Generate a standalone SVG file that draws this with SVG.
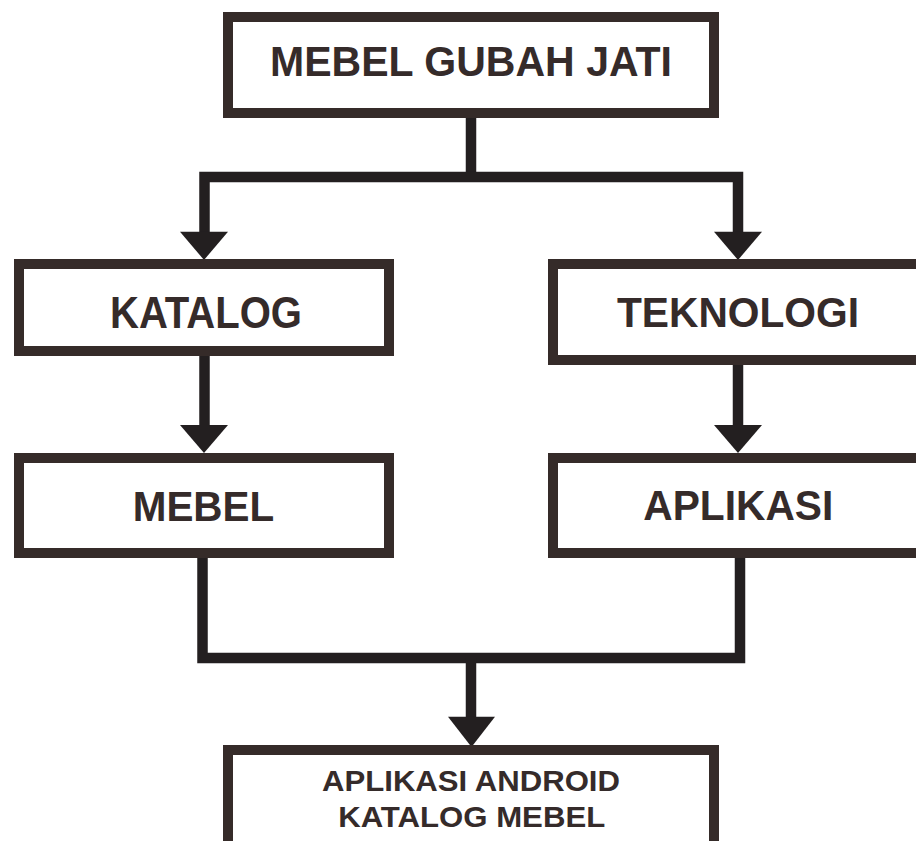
<svg xmlns="http://www.w3.org/2000/svg" width="916" height="841" viewBox="0 0 916 841">
  <style>
    .box { fill: #ffffff; stroke: #352b29; stroke-width: 10; }
    .lbl { font-family: "Liberation Sans", Arial, sans-serif; font-weight: bold; fill: #352b2a; text-anchor: middle; }
    .conn { fill: none; stroke: #231f20; stroke-width: 10.5; stroke-linejoin: miter; stroke-linecap: butt; }
    .head { fill: #231f20; }
  </style>
  <rect x="0" y="0" width="916" height="841" fill="#ffffff"/>

  <g id="connectors">
    <path class="conn" d="M471,118 V177"/>
    <path class="conn" d="M204.5,233 V177 H738 V233"/>
    <polygon class="head" points="180,231.7 228,231.7 204,260"/>
    <polygon class="head" points="714,231.7 762,231.7 738,260"/>
    <path class="conn" d="M204.5,355 V426"/>
    <polygon class="head" points="180,425 228,425 204,453"/>
    <path class="conn" d="M738,364 V426"/>
    <polygon class="head" points="714,425 762,425 738,453"/>
    <path class="conn" d="M202.5,552 V658 H740 V552"/>
    <path class="conn" d="M471,658 V718"/>
    <polygon class="head" points="448,716.7 495,716.7 471.5,747"/>
  </g>

  <g id="node-mebel-gubah-jati">
    <rect class="box" x="228" y="17" width="486" height="96"/>
    <text class="lbl" x="471" y="76" font-size="43" textLength="402" lengthAdjust="spacingAndGlyphs">MEBEL GUBAH JATI</text>
  </g>

  <g id="node-katalog">
    <rect class="box" x="19" y="264" width="370" height="87"/>
    <text class="lbl" x="206" y="328" font-size="44" textLength="192" lengthAdjust="spacingAndGlyphs">KATALOG</text>
  </g>

  <g id="node-teknologi">
    <rect class="box" x="553" y="264" width="400" height="96"/>
    <text class="lbl" x="738" y="327" font-size="42" textLength="242" lengthAdjust="spacingAndGlyphs">TEKNOLOGI</text>
  </g>

  <g id="node-mebel">
    <rect class="box" x="19" y="458" width="370" height="95"/>
    <text class="lbl" x="203.5" y="521" font-size="42" textLength="141.6" lengthAdjust="spacingAndGlyphs">MEBEL</text>
  </g>

  <g id="node-aplikasi">
    <rect class="box" x="553" y="458" width="400" height="95"/>
    <text class="lbl" x="738.3" y="520" font-size="42" textLength="190" lengthAdjust="spacingAndGlyphs">APLIKASI</text>
  </g>

  <g id="node-aplikasi-android">
    <rect class="box" x="228" y="750" width="486" height="120"/>
    <text class="lbl" x="471" y="791" font-size="30" textLength="298" lengthAdjust="spacingAndGlyphs">APLIKASI ANDROID</text>
    <text class="lbl" x="471.7" y="826.5" font-size="30" textLength="267" lengthAdjust="spacingAndGlyphs">KATALOG MEBEL</text>
  </g>
</svg>
